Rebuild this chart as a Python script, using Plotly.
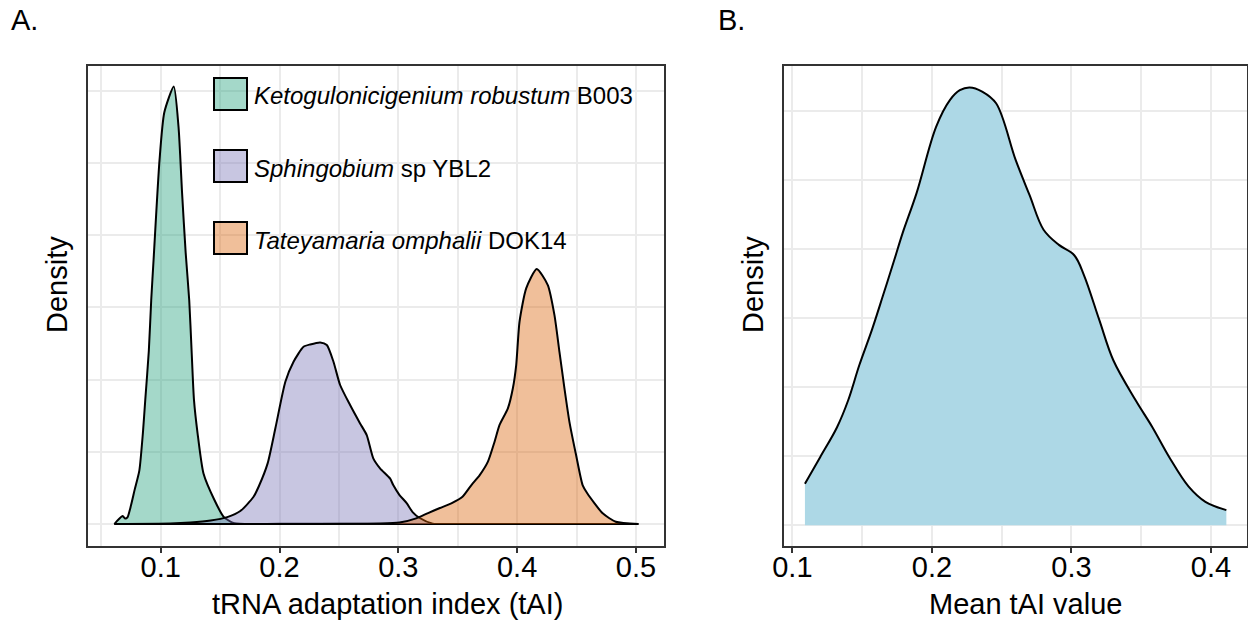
import plotly.graph_objects as go

W, H = 1248, 623

# panel A: density of tAI per genome
keto_x = [0.061, 0.064, 0.068, 0.070, 0.072, 0.075, 0.078, 0.082, 0.085, 0.087,
          0.090, 0.092, 0.094, 0.099, 0.103, 0.111, 0.115, 0.118, 0.121, 0.124,
          0.126, 0.128, 0.131, 0.136, 0.145, 0.153, 0.162, 0.200, 0.300, 0.400, 0.502]
keto_y = [0.0, 0.28, 0.55, 0.38, 0.46, 1.3, 2.35, 3.7, 6.3, 8.6,
          12.0, 15.5, 18.3, 25.2, 28.5, 30.3, 27.5, 22.9, 18.8, 15.5,
          12.0, 8.6, 6.3, 3.5, 1.7, 0.5, 0.05, 0.02, 0.01, 0.0, 0.0]

sphingo_x = [0.061, 0.108, 0.125, 0.142, 0.156, 0.167, 0.178, 0.1825, 0.190, 0.1965,
             0.2049, 0.2118, 0.2202, 0.2258, 0.2342, 0.2398, 0.2454, 0.2510, 0.2594, 0.2678,
             0.2734, 0.2789, 0.2846, 0.2930, 0.2957, 0.301, 0.307, 0.312, 0.318, 0.329,
             0.352, 0.502]
sphingo_y = [0.0, 0.03, 0.10, 0.24, 0.48, 0.90, 1.87, 2.60, 4.20, 6.63,
             9.85, 11.24, 12.28, 12.44, 12.58, 12.40, 11.24, 9.63, 8.24, 6.97,
             6.16, 4.55, 3.86, 3.16, 2.70, 2.01, 1.45, 0.83, 0.42, 0.03,
             0.01, 0.0]

tateya_x = [0.061, 0.217, 0.285, 0.301, 0.315, 0.325, 0.335, 0.345, 0.354, 0.3615,
            0.3685, 0.3754, 0.3810, 0.3852, 0.3922, 0.3964, 0.3992, 0.4020, 0.4076, 0.4165,
            0.4258, 0.4314, 0.4356, 0.4398, 0.4440, 0.4496, 0.4551, 0.459, 0.472, 0.483,
            0.502]
tateya_y = [0.0, 0.01, 0.03, 0.10, 0.39, 0.76, 1.11, 1.45, 1.89, 2.70,
            3.39, 4.32, 5.70, 6.86, 8.01, 9.40, 11.01, 14.01, 16.32, 17.66,
            16.55, 14.47, 11.93, 9.40, 7.08, 4.78, 2.70, 2.13, 0.74, 0.16,
            0.0]

# panel B: density of mean tAI values
mean_x = [0.109, 0.120, 0.132, 0.140, 0.148, 0.157, 0.165, 0.173, 0.179, 0.189,
          0.203, 0.213, 0.220, 0.227, 0.236, 0.246, 0.260, 0.270, 0.280, 0.291,
          0.302, 0.309, 0.320, 0.330, 0.346, 0.358, 0.370, 0.384, 0.396, 0.411]
mean_y = [0.60, 0.99, 1.42, 1.81, 2.32, 2.83, 3.33, 3.84, 4.23, 4.81,
          5.77, 6.16, 6.30, 6.34, 6.28, 6.11, 5.29, 4.78, 4.28, 4.06,
          3.91, 3.62, 2.97, 2.39, 1.81, 1.42, 0.99, 0.56, 0.34, 0.22]

species = ["Ketogulonicigenium robustum", "Sphingobium", "Tateyamaria omphalii"]
strain = ["B003", "sp YBL2", "DOK14"]
colors = ["rgba(27,158,119,0.4)", "rgba(117,112,179,0.4)", "rgba(217,95,2,0.4)"]
series = [(keto_x, keto_y), (sphingo_x, sphingo_y), (tateya_x, tateya_y)]

FONT = "Liberation Sans, Arial, sans-serif"
GRID = "#EBEBEB"
BORDER = "#333333"


def px(x):
    # window pixel -> paper fraction
    return x / W


def py(y):
    return 1 - y / H


fig = go.Figure()
for (xs, ys), col, name in zip(series, colors, species):
    fig.add_trace(go.Scatter(x=xs, y=ys, mode="lines", fill="tozeroy", fillcolor=col,
                             line=dict(color="black", width=2, shape="spline", smoothing=0.6),
                             name=name, showlegend=False, xaxis="x", yaxis="y"))

fig.add_trace(go.Scatter(x=mean_x, y=mean_y, mode="lines", fill="tozeroy",
                         fillcolor="#ADD8E6",
                         line=dict(color="black", width=2, shape="spline", smoothing=1.0),
                         showlegend=False, xaxis="x2", yaxis="y2"))

axis_common = dict(showline=True, mirror=True, linecolor=BORDER, linewidth=1.7,
                   gridcolor=GRID, gridwidth=1.5, zeroline=False, automargin=False)
xcommon = dict(axis_common, ticks="outside", ticklen=5, tickwidth=1.5, tickcolor=BORDER,
               dtick=0.1, tickformat=".1f", ticklabelstandoff=-11,
               tickfont=dict(family=FONT, size=29, color="black"),
               minor=dict(dtick=0.05, showgrid=True, gridcolor=GRID, gridwidth=1.5, ticks=""))

y0, y1 = py(546), py(66)
fig.update_layout(
    width=W, height=H, autosize=False,
    margin=dict(l=0, r=0, t=0, b=0, pad=0, autoexpand=False),
    paper_bgcolor="white", plot_bgcolor="white",
    xaxis=dict(xcommon, domain=[px(88), px(664)], range=[0.0388, 0.5236], tick0=0.1),
    yaxis=dict(axis_common, domain=[y0, y1], range=[-1.52, 31.72], dtick=5,
               showticklabels=False, ticks=""),
    xaxis2=dict(xcommon, domain=[px(784), px(1247)], range=[0.0940, 0.4258],
                tick0=0.1, anchor="y2"),
    yaxis2=dict(axis_common, domain=[y0, y1], range=[-0.30, 6.65], dtick=1,
                showticklabels=False, ticks="", anchor="x2"),
    showlegend=False,
)

# legend keys drawn by hand inside panel A
key_top = [78, 150, 222]
annotations = []
shapes = []
for top, col, sp, st in zip(key_top, colors, species, strain):
    shapes.append(dict(type="rect", xref="paper", yref="paper",
                       x0=px(214), x1=px(247), y0=py(top + 32), y1=py(top),
                       fillcolor=col, line=dict(color="black", width=2)))
    annotations.append(dict(text=f"<i>{sp}</i> {st}", xref="paper", yref="paper",
                            x=px(252), y=py(top + 18), xanchor="left", yanchor="middle",
                            showarrow=False, font=dict(family=FONT, size=24, color="black")))

title_font = dict(family=FONT, size=29, color="black")
annotations += [
    dict(text="A.", x=px(9), y=py(20), xanchor="left", yanchor="middle"),
    dict(text="B.", x=px(716), y=py(20), xanchor="left", yanchor="middle"),
    dict(text="tRNA adaptation index (tAI)", x=px(387), y=py(604),
         xanchor="center", yanchor="middle"),
    dict(text="Mean tAI value", x=px(1025), y=py(604), xanchor="center", yanchor="middle"),
    dict(text="Density", x=px(57), y=py(285), textangle=-90,
         xanchor="center", yanchor="middle"),
    dict(text="Density", x=px(753), y=py(285), textangle=-90,
         xanchor="center", yanchor="middle"),
]
for a in annotations[3:]:
    a.update(xref="paper", yref="paper", showarrow=False, font=title_font)

fig.update_layout(annotations=annotations, shapes=shapes)
# drop the browser's default body margin so the figure fills the window exactly
fig.write_html("out.html", config={"displayModeBar": False},
               post_script="document.body.style.margin='0';"
                           "document.body.style.overflow='hidden';")
